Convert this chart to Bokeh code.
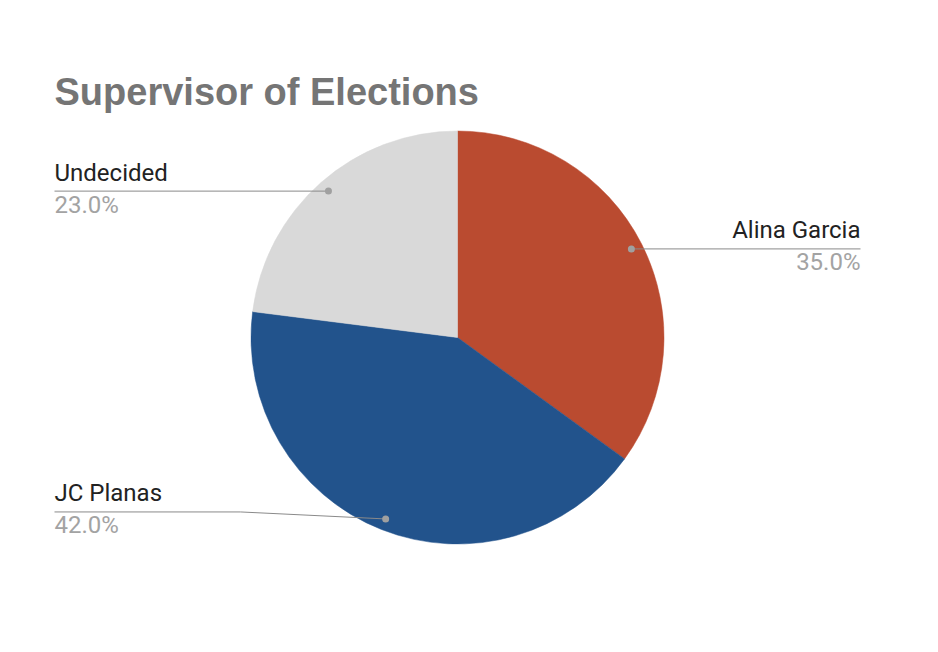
import math
from bokeh.plotting import figure
from bokeh.models import ColumnDataSource, Range1d
from bokeh.core.properties import value
from bokeh.embed import file_html
from bokeh.resources import INLINE

# ---- data ----
title = "Supervisor of Elections"
names = ["Alina Garcia", "JC Planas", "Undecided"]
shares = [35.0, 42.0, 23.0]
colors = ["#BA4B30", "#22538C", "#D9D9D9"]

# ---- layout (screenshot pixels) ----
W, H = 922, 636
def X(px):
    return px
def Y(py):
    return H - py

CX, CY, R = X(457), Y(337), 206.5
DOT_R = 0.945 * R
label_side = ["right", "left", "left"]
label_x = {"right": 860, "left": 54}

p = figure(width=W, height=H, output_backend="svg", toolbar_location=None,
           x_range=Range1d(0, W), y_range=Range1d(0, H),
           x_axis_type=None, y_axis_type=None, min_border=0)
p.outline_line_color = None
p.grid.visible = False
p.background_fill_color = "white"
p.border_fill_color = "white"

total = sum(shares)
starts, ends, mids = [], [], []
cum = 0.0
for s in shares:
    a_end = math.pi / 2 - 2 * math.pi * cum / total
    cum += s
    a_start = math.pi / 2 - 2 * math.pi * cum / total
    starts.append(a_start)
    ends.append(a_end)
    mids.append((a_start + a_end) / 2)

src = ColumnDataSource(dict(start=starts, end=ends, color=colors, name=names))
p.wedge(x=CX, y=CY, radius=R, start_angle="start", end_angle="end",
        direction="anticlock", fill_color="color", line_color="color", line_width=0.5,
        source=src)

# leader lines, dots and labels
for name, s, m, side in zip(names, shares, mids, label_side):
    dx = CX + DOT_R * math.cos(m)
    dy = CY + DOT_R * math.sin(m)
    lx = X(label_x[side])
    if name == "JC Planas":
        ly = dy + 7
        xs = [lx, lx + 186, dx]
        ys = [ly, ly, dy]
    else:
        ly = dy
        xs = [lx, dx]
        ys = [ly, dy]
    p.line(xs, ys, line_color="#8a8a8a", line_width=1)
    p.scatter([dx], [dy], size=7, fill_color="#a0a0a0", line_color=None)
    align = "right" if side == "right" else "left"
    p.text([lx], [ly + 18.5], text=[name], text_font=value("Roboto"), text_font_size="24px",
           text_color="#222222", text_align=align, text_baseline="alphabetic")
    p.text([lx], [ly - 13.5], text=[f"{s:.1f}%"], text_font=value("Roboto"), text_font_size="24px",
           text_color="#a3a3a3", text_align=align, text_baseline="alphabetic")

p.text([X(54)], [Y(104) + 13], text=[title], text_font=value("Liberation Sans"),
       text_font_size="38px", text_font_style="bold", text_color="#757575",
       text_align="left", text_baseline="alphabetic")

open("out.html", "w").write(file_html(p, INLINE))
